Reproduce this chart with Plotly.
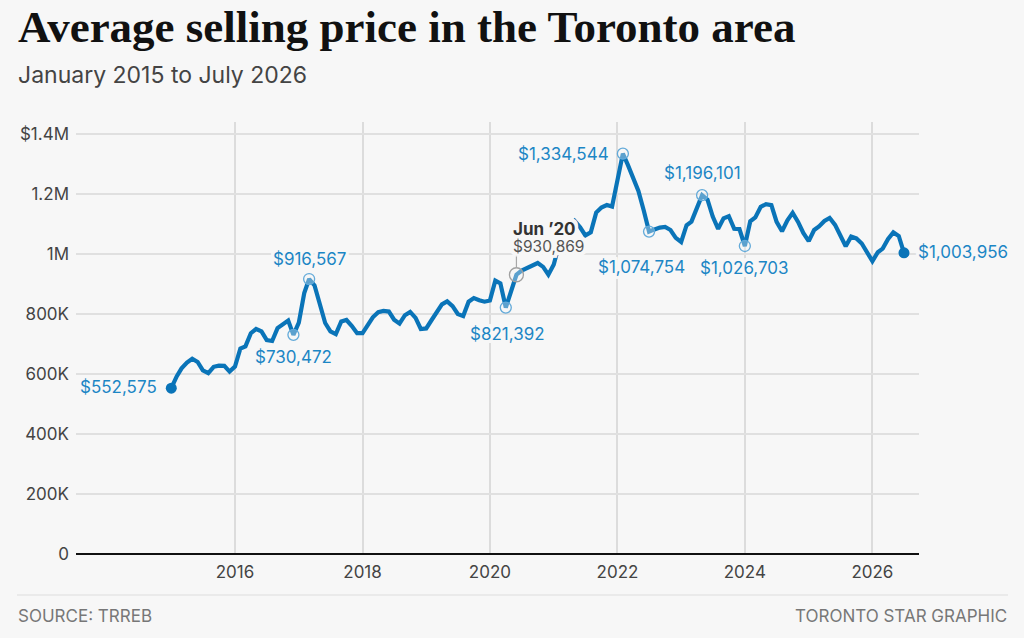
import pandas as pd
import plotly.graph_objects as go

# monthly average selling price, TRREB
prices_2015 = [552575, 592000, 619000, 638000, 651000, 640000, 612000, 603000, 624000, 628000, 627000, 608000]
prices_2016 = [625000, 685000, 692000, 736000, 750000, 742000, 713000, 710000, 753000, 767000, 778000, 730472]
prices_2017 = [771000, 870000, 916567, 895000, 828000, 770000, 742000, 733000, 775000, 780000, 760000, 736000]
prices_2018 = [736000, 765000, 789000, 806000, 810000, 808000, 781000, 768000, 796000, 807000, 787000, 750000]
prices_2019 = [752000, 780000, 805000, 832000, 842000, 826000, 800000, 793000, 841000, 853000, 846000, 841000]
prices_2020 = [845000, 911000, 902000, 821392, 875000, 930869, 945000, 954000, 962000, 970000, 957000, 931000]
prices_2021 = [965000, 1040000, 1095000, 1090000, 1110000, 1089000, 1062000, 1072000, 1138000, 1155000, 1163000, 1158000]
prices_2022 = [1245000, 1334544, 1298000, 1253000, 1210000, 1144000, 1074754, 1082000, 1088000, 1090000, 1080000, 1054000]
prices_2023 = [1040000, 1096000, 1108000, 1153000, 1196101, 1181000, 1125000, 1084000, 1119000, 1126000, 1084000, 1083000]
prices_2024 = [1026703, 1109000, 1122000, 1157000, 1166000, 1163000, 1107000, 1076000, 1112000, 1137000, 1107000, 1070000]
prices_2025 = [1043000, 1080000, 1092000, 1110000, 1120000, 1097000, 1058000, 1026000, 1058000, 1052000, 1035000, 1005000]
prices_2026 = [976000, 1006000, 1018000, 1050000, 1072000, 1060000, 1003956]

# labelled months
ring_months = ["2016-12", "2017-03", "2020-04", "2022-02", "2022-07", "2023-05", "2024-01"]
end_months = ["2015-01", "2026-07"]
tooltip_month = "2020-06"
tooltip_label = "Jun ’20"

y_tickvals = [0, 200000, 400000, 600000, 800000, 1000000, 1200000, 1400000]
y_ticktext = ["0", "200K", "400K", "600K", "800K", "1M", "1.2M", "$1.4M"]
x_tickyears = [2016, 2018, 2020, 2022, 2024, 2026]

prices = (prices_2015 + prices_2016 + prices_2017 + prices_2018 + prices_2019 + prices_2020
          + prices_2021 + prices_2022 + prices_2023 + prices_2024 + prices_2025 + prices_2026)
df = pd.DataFrame({
    "month": pd.date_range("2015-01-01", periods=len(prices), freq="MS"),
    "price": prices,
})
df["key"] = df["month"].dt.strftime("%Y-%m")
df = df.set_index("key")

BG = "#f7f7f7"
LINE = "#0a74b8"
LABEL = "#1c86c5"
FONT = "Inter, Roboto, sans-serif"

# plot area in pixels
L, R, T, B = 76, 919, 122, 554


def px_x(p):
    return (p - L) / (R - L)


def px_y(p):
    return (B - p) / (B - T)


def halo(c=BG, r=3):
    parts = []
    for dx in range(-r, r + 1):
        for dy in range(-r, r + 1):
            if dx or dy:
                parts.append(f"{dx}px {dy}px 0 {c}")
    return ", ".join(parts)


fig = go.Figure()
fig.add_trace(go.Scatter(
    x=df["month"], y=df["price"], mode="lines",
    line=dict(color=LINE, width=4.2), hoverinfo="skip",
))
rings = df.loc[ring_months]
fig.add_trace(go.Scatter(
    x=rings["month"], y=rings["price"], mode="markers",
    marker=dict(size=11, color="rgba(247,247,247,0.35)", line=dict(color="#63aad9", width=1.3)),
))
tip = df.loc[tooltip_month]
fig.add_trace(go.Scatter(
    x=[tip["month"]], y=[tip["price"]], mode="markers",
    marker=dict(size=14, color="rgba(247,247,247,0.35)", line=dict(color="#a0a0a0", width=1.3)),
))
ends = df.loc[end_months]
fig.add_trace(go.Scatter(
    x=ends["month"], y=ends["price"], mode="markers",
    marker=dict(size=11, color=LINE),
))

# value labels: month -> (xanchor, xshift, yshift)
label_pos = {
    "2015-01": ("right", -12, 1),
    "2016-12": ("center", 0, -22),
    "2017-03": ("center", 1, 20),
    "2020-04": ("center", 2, -26),
    "2022-02": ("right", -12, 0),
    "2022-07": ("center", -8, -35),
    "2023-05": ("center", 0, 22),
    "2024-01": ("center", 0, -22),
    "2026-07": ("left", 12, 1),
}
for key, (anchor, dx, dy) in label_pos.items():
    row = df.loc[key]
    fig.add_annotation(
        x=row["month"], y=row["price"], text=f"${row['price']:,.0f}",
        showarrow=False, xanchor=anchor, yanchor="middle", xshift=dx, yshift=dy,
        font=dict(family=FONT, size=17, color=LABEL, shadow=halo()),
    )

# hover tooltip on Jun 2020
fig.add_annotation(
    x=tip["month"], y=tip["price"], text=" ", showarrow=True, ax=0, ay=-23,
    arrowhead=0, arrowwidth=1.2, arrowcolor="#a8a8a8", standoff=7,
    font=dict(size=1),
)
fig.add_annotation(
    x=tip["month"], y=tip["price"], text=f"<b>{tooltip_label}</b>",
    showarrow=False, xanchor="left", yanchor="middle", xshift=-5, yshift=46,
    font=dict(family=FONT, size=17, color="#333333", shadow=halo()),
)
fig.add_annotation(
    x=tip["month"], y=tip["price"], text=f"${tip['price']:,.0f}",
    showarrow=False, xanchor="left", yanchor="middle", xshift=-5, yshift=28,
    font=dict(family=FONT, size=15.5, color="#555555", shadow=halo()),
)

# titles and footer
fig.add_annotation(
    xref="paper", yref="paper", x=px_x(16), y=px_y(27), xanchor="left", yanchor="middle",
    text="<b>Average selling price in the Toronto area</b>", showarrow=False,
    font=dict(family="Liberation Serif, serif", size=45, color="#111111"),
)
fig.add_annotation(
    xref="paper", yref="paper", x=px_x(16), y=px_y(75), xanchor="left", yanchor="middle",
    text="January 2015 to July 2026", showarrow=False,
    font=dict(family=FONT, size=23, color="#444444"),
)
fig.add_annotation(
    xref="paper", yref="paper", x=px_x(16), y=px_y(616), xanchor="left", yanchor="middle",
    text="SOURCE: TRREB", showarrow=False,
    font=dict(family=FONT, size=17, color="#777777"),
)
fig.add_annotation(
    xref="paper", yref="paper", x=px_x(1009), y=px_y(616), xanchor="right", yanchor="middle",
    text="TORONTO STAR GRAPHIC", showarrow=False,
    font=dict(family=FONT, size=17, color="#777777"),
)
fig.add_shape(
    type="line", xref="paper", yref="paper", x0=px_x(17), x1=px_x(1008), y0=px_y(595), y1=px_y(595),
    line=dict(color="#dddddd", width=1.2),
)

fig.update_layout(
    width=1024, height=638,
    margin=dict(l=L, r=1024 - R, t=T, b=638 - B, pad=0),
    paper_bgcolor=BG, plot_bgcolor=BG,
    showlegend=False, hovermode=False,
    xaxis=dict(
        type="date", range=["2013-07-04", "2026-09-25"],
        tickvals=[f"{y}-01-01" for y in x_tickyears], ticktext=[str(y) for y in x_tickyears],
        showgrid=True, gridcolor="#dcdcdc", gridwidth=1.5, zeroline=False, showline=False,
        ticks="", ticklabelstandoff=6,
        tickfont=dict(family=FONT, size=17, color="#444444"),
    ),
    yaxis=dict(
        range=[0, 1440000], tickvals=y_tickvals, ticktext=y_ticktext,
        showgrid=True, gridcolor="#e0e0e0", gridwidth=1.5,
        zeroline=True, zerolinecolor="#111111", zerolinewidth=2, showline=False,
        ticks="", ticklabelstandoff=6,
        tickfont=dict(family=FONT, size=17, color="#444444"),
    ),
)

fig.write_html(
    "out.html",
    config={"displayModeBar": False},
    post_script="document.body.style.margin='0';document.body.style.overflow='hidden';",
)
